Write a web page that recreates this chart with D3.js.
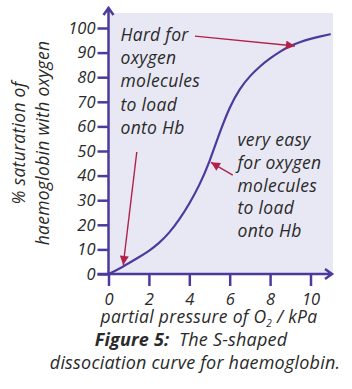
<!DOCTYPE html>
<html>
<head>
<meta charset="utf-8">
<script src="https://cdn.jsdelivr.net/npm/d3@7"></script>
<style>
  body { margin: 0; background: #fff; }
  svg text { font-family: "Open Sans", Lato, sans-serif; font-style: italic; fill: #2a2a2a; }
</style>
</head>
<body>
<div id="chart"></div>
<script>
// values
const pressure = [0, 0.5, 1, 1.5, 2, 2.5, 3, 3.5, 4, 4.5, 5, 5.5, 6, 6.5, 7, 7.5, 8, 8.5, 9, 9.5, 10, 10.5, 11];
const saturation = [0, 2, 4.4, 6.8, 9.3, 12.5, 16.6, 22, 28.5, 36, 45.5, 57.5, 68, 75.5, 80.5, 84.5, 87.7, 90.5, 92.8, 94.4, 95.6, 96.6, 97.5];
const xTicks = [0, 2, 4, 6, 8, 10];
const yTicks = [0, 10, 20, 30, 40, 50, 60, 70, 80, 90, 100];

const hardText = ["Hard for", "oxygen", "molecules", "to load", "onto Hb"];
const easyText = ["very easy", "for oxygen", "molecules", "to load", "onto Hb"];

// arrows as [from, to] in data units (kPa, %)
const arrows = [
    [[4.28, 96.7], [9.23, 92.7]],
    [[1.4, 49.6], [0.73, 3.7]],
    [[6.15, 40.2], [5.07, 45.4]]
];

const width = 352, height = 389;
const purple = "#4e3a9c";
const red = "#b3204a";

const svg = d3.select("#chart").append("svg")
    .attr("width", width)
    .attr("height", height);

const x = d3.scaleLinear().domain([0, 10]).range([108.5, 310.5]);
const y = d3.scaleLinear().domain([0, 100]).range([274, 28]);

// shaded plot area
svg.append("rect")
    .attr("x", x(0))
    .attr("y", 13)
    .attr("width", 333 - x(0))
    .attr("height", y(0) - 13)
    .attr("fill", "#e8e8f4");

const defs = svg.append("defs");
defs.append("marker")
    .attr("id", "head")
    .attr("viewBox", "0 0 10 10")
    .attr("refX", 10).attr("refY", 5)
    .attr("markerWidth", 10).attr("markerHeight", 9)
    .attr("markerUnits", "userSpaceOnUse")
    .attr("orient", "auto")
    .append("path")
    .attr("d", "M0,0 L10,5 L0,10 Z")
    .attr("fill", red);

// axes
const yAxis = svg.append("g")
    .attr("transform", `translate(${x(0)},0)`)
    .call(d3.axisLeft(y).tickValues(yTicks).tickSize(11).tickPadding(2).tickSizeOuter(0));
const xAxis = svg.append("g")
    .attr("transform", `translate(0,${y(0)})`)
    .call(d3.axisBottom(x).tickValues(xTicks).tickSize(12).tickPadding(7).tickSizeOuter(0));

[xAxis, yAxis].forEach(function (g) {
    g.select(".domain").remove();
    g.selectAll(".tick line").attr("stroke", purple).attr("stroke-width", 2.5);
    g.selectAll(".tick text").style("font-size", "16.5px").style("font-family", "\"Open Sans\", sans-serif").attr("fill", "#2a2a2a");
});

// axis lines with open arrowheads
svg.append("path")
    .attr("d", `M${x(0)},${y(0)} V8 M${x(0) - 5},15 L${x(0)},8 L${x(0) + 5},15`)
    .attr("fill", "none").attr("stroke", purple).attr("stroke-width", 2.5);
svg.append("path")
    .attr("d", `M${x(0) - 11},${y(0)} H332 M325,${y(0) - 5} L332,${y(0)} L325,${y(0) + 5}`)
    .attr("fill", "none").attr("stroke", purple).attr("stroke-width", 2.5);

// the curve
const curveData = pressure.map(function (p, i) { return { p: p, s: saturation[i] }; });
svg.append("path")
    .datum(curveData)
    .attr("fill", "none")
    .attr("stroke", purple)
    .attr("stroke-width", 2.2)
    .attr("d", d3.line()
        .x(function (d) { return x(d.p); })
        .y(function (d) { return y(d.s); })
        .curve(d3.curveBasis));

// annotation arrows
svg.selectAll(".arrow")
    .data(arrows)
    .join("line")
    .attr("class", "arrow")
    .attr("x1", function (d) { return x(d[0][0]); })
    .attr("y1", function (d) { return y(d[0][1]); })
    .attr("x2", function (d) { return x(d[1][0]); })
    .attr("y2", function (d) { return y(d[1][1]); })
    .attr("stroke", red)
    .attr("stroke-width", 1.4)
    .attr("marker-end", "url(#head)");

// annotation text
svg.append("text")
    .attr("x", 120.5).attr("y", 41)
    .style("font-size", "17.5px")
    .style("letter-spacing", "0.3px")
    .selectAll("tspan").data(hardText).join("tspan")
    .attr("x", 120.5)
    .attr("dy", function (d, i) { return i ? 23.2 : 0; })
    .text(function (d) { return d; });

svg.append("text")
    .attr("x", 237.5).attr("y", 146)
    .style("font-size", "17.5px")
    .style("letter-spacing", "0.3px")
    .selectAll("tspan").data(easyText).join("tspan")
    .attr("x", 237.5)
    .attr("dy", function (d, i) { return i ? 22.8 : 0; })
    .text(function (d) { return d; });

// y axis title
const yTitle = svg.append("text")
    .attr("transform", "translate(25,143) rotate(-90)")
    .attr("text-anchor", "middle")
    .style("font-size", "17.5px")
    .style("letter-spacing", "0.3px");
yTitle.append("tspan").attr("x", 0).attr("y", 0).text("% saturation of");
yTitle.append("tspan").attr("x", 0).attr("y", 24).text("haemoglobin with oxygen");

// x axis title
const xTitle = svg.append("text")
    .attr("x", 209).attr("y", 322.5)
    .attr("text-anchor", "middle")
    .style("font-size", "17.5px")
    .style("letter-spacing", "0.3px");
xTitle.append("tspan").text("partial pressure of O");
xTitle.append("tspan").attr("dy", 4).style("font-size", "10px").text("2");
xTitle.append("tspan").attr("dy", -4).text(" / kPa");

// caption
const cap = svg.append("text")
    .attr("x", 191).attr("y", 346)
    .attr("text-anchor", "middle")
    .style("font-size", "18px")
    .style("letter-spacing", "0.2px");
cap.append("tspan").style("font-weight", "bold").text("Figure 5:");
cap.append("tspan").text("\u00a0 The S-shaped");
svg.append("text")
    .attr("x", 195).attr("y", 369)
    .attr("text-anchor", "middle")
    .style("font-size", "18px")
    .style("letter-spacing", "0.2px")
    .text("dissociation curve for haemoglobin.");
</script>
</body>
</html>
